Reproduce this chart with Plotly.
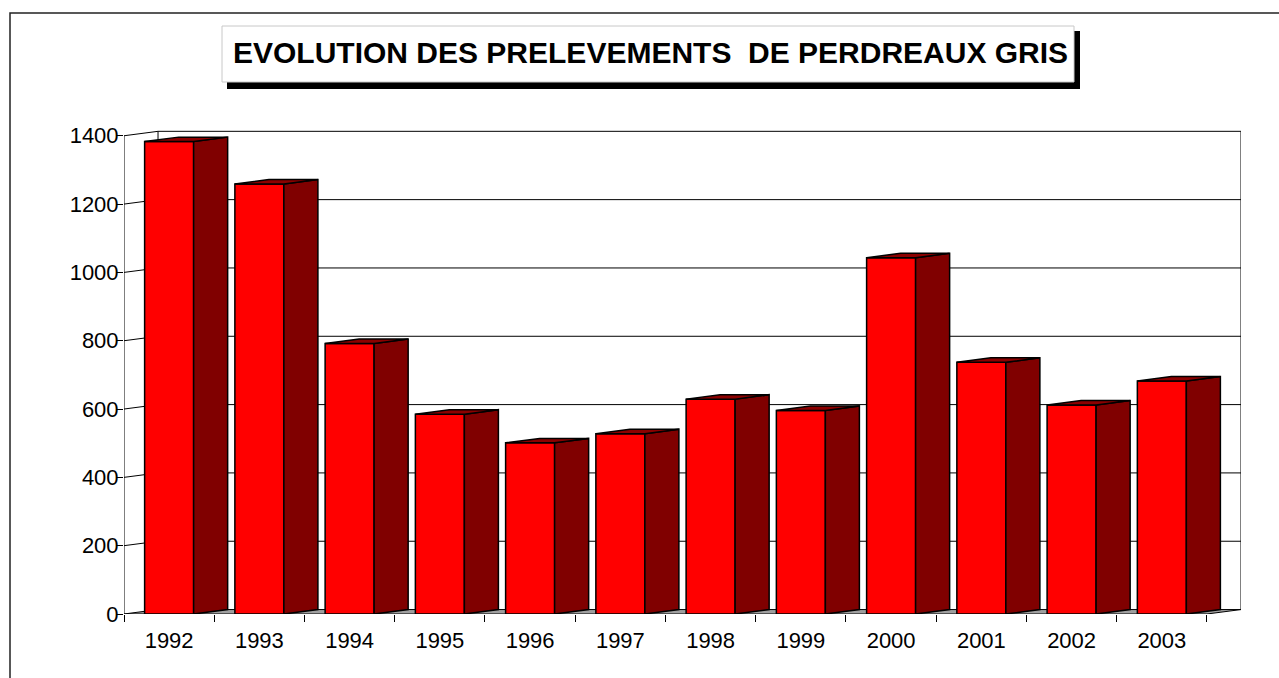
import plotly.graph_objects as go

# Annual harvest of grey partridges
years = ["1992", "1993", "1994", "1995", "1996", "1997",
         "1998", "1999", "2000", "2001", "2002", "2003"]
harvest = [1383, 1259, 792, 585, 501, 528, 629, 596, 1043, 737, 612, 682]
y_ticks = [0, 200, 400, 600, 800, 1000, 1200, 1400]

title_text = "EVOLUTION DES PRELEVEMENTS  DE PERDREAUX GRIS"

# 3D look: depth offset of the walls and bars (in axis units)
DX = 0.377      # depth along x (category units)
DY = 13         # depth along y (value units)
HW = 0.2715     # half width of a bar front face
Y_MAX = 1400

FRONT = "#FF0000"
SIDE = "#800000"
TOP = "#8C0000"

# plot area placement in pixels (1279 x 678 page)
W, H = 1279, 678
L, R, T, B = 124, 1241, 128, 614


def paper_x(p):
    return (p - L) / (R - L)


def paper_y(p):
    return (B - p) / (B - T)


n = len(years)
idx = list(range(n))
x_lo, x_hi = -0.5, n - 0.5 + DX
y_hi = (B - T) / 0.3416

fig = go.Figure()

# walls: side-wall and back-wall gridlines
gx, gy = [], []
for v in y_ticks[1:]:
    gx += [-0.5, -0.5 + DX, n - 0.5 + DX, None]
    gy += [v, v + DY, v + DY, None]
# back wall left/right edges
gx += [-0.5 + DX, -0.5 + DX, None, n - 0.5 + DX, n - 0.5 + DX, None]
gy += [DY, Y_MAX + DY, None, DY, Y_MAX + DY, None]
fig.add_trace(go.Scatter(x=gx, y=gy, mode="lines",
                         line=dict(color="#000000", width=1),
                         hoverinfo="skip", showlegend=False))

# floor
fig.add_trace(go.Scatter(
    x=[-0.5, n - 0.5, n - 0.5 + DX, -0.5 + DX, -0.5],
    y=[0, 0, DY, DY, 0],
    mode="lines", fill="toself", fillcolor="#A0A0A0",
    line=dict(color="#000000", width=1),
    hoverinfo="skip", showlegend=False))

# front value axis line
fig.add_trace(go.Scatter(x=[-0.5, -0.5], y=[0, Y_MAX], mode="lines",
                         line=dict(color="#000000", width=1),
                         hoverinfo="skip", showlegend=False))

# bars: front, side and top faces
for i, v in zip(idx, harvest):
    a, b = i - HW, i + HW
    faces = [
        ([a, b, b, a, a], [0, 0, v, v, 0], FRONT),
        ([b, b + DX, b + DX, b, b], [0, DY, v + DY, v, 0], SIDE),
        ([a, b, b + DX, a + DX, a], [v, v, v + DY, v + DY, v], TOP),
    ]
    for fx, fy, col in faces:
        fig.add_trace(go.Scatter(
            x=fx, y=fy, mode="lines", fill="toself", fillcolor=col,
            line=dict(color="#000000", width=1.5),
            hoverinfo="skip", showlegend=False))

font_family = "Liberation Sans, Arial, sans-serif"

shapes = [
    # outer chart frame
    dict(type="rect", xref="paper", yref="paper",
         x0=paper_x(10), x1=paper_x(1300), y0=paper_y(13), y1=paper_y(700),
         line=dict(color="#222222", width=1.5), fillcolor="rgba(0,0,0,0)",
         layer="below"),
    # title shadow
    dict(type="rect", xref="paper", yref="paper",
         x0=paper_x(227), x1=paper_x(1080), y0=paper_y(31), y1=paper_y(89),
         line=dict(width=0), fillcolor="#000000"),
    # title box
    dict(type="rect", xref="paper", yref="paper",
         x0=paper_x(222), x1=paper_x(1074), y0=paper_y(26), y1=paper_y(82),
         line=dict(color="#C8C8C8", width=1), fillcolor="#FFFFFF"),
]

fig.add_annotation(
    xref="paper", yref="paper",
    x=paper_x(650), y=paper_y(53),
    text="<b>" + title_text + "</b>",
    showarrow=False, xanchor="center", yanchor="middle",
    font=dict(family=font_family, size=30, color="#000000"))

fig.update_layout(
    width=W, height=H,
    margin=dict(l=L, r=W - R, t=T, b=H - B, pad=0),
    paper_bgcolor="#FFFFFF", plot_bgcolor="#FFFFFF",
    hovermode=False, showlegend=False,
    shapes=shapes,
    font=dict(family=font_family, size=22, color="#000000"),
    xaxis=dict(
        range=[x_lo, x_hi], showgrid=False, zeroline=False, showline=False,
        tickmode="array", tickvals=idx, ticktext=years,
        ticks="", tickfont=dict(size=22), ticklabelstandoff=11,
        minor=dict(tickmode="array", tickvals=[k - 0.5 for k in range(n + 1)],
                   ticks="outside", ticklen=7, tickcolor="#000000",
                   tickwidth=1, showgrid=False),
        fixedrange=True,
    ),
    yaxis=dict(
        range=[0, y_hi], showgrid=False, zeroline=False, showline=False,
        tickmode="array", tickvals=y_ticks,
        ticks="outside", ticklen=7, tickcolor="#000000", tickwidth=1,
        tickfont=dict(size=22), ticklabelstandoff=-7, fixedrange=True,
    ),
)

fig.write_html("out.html")
